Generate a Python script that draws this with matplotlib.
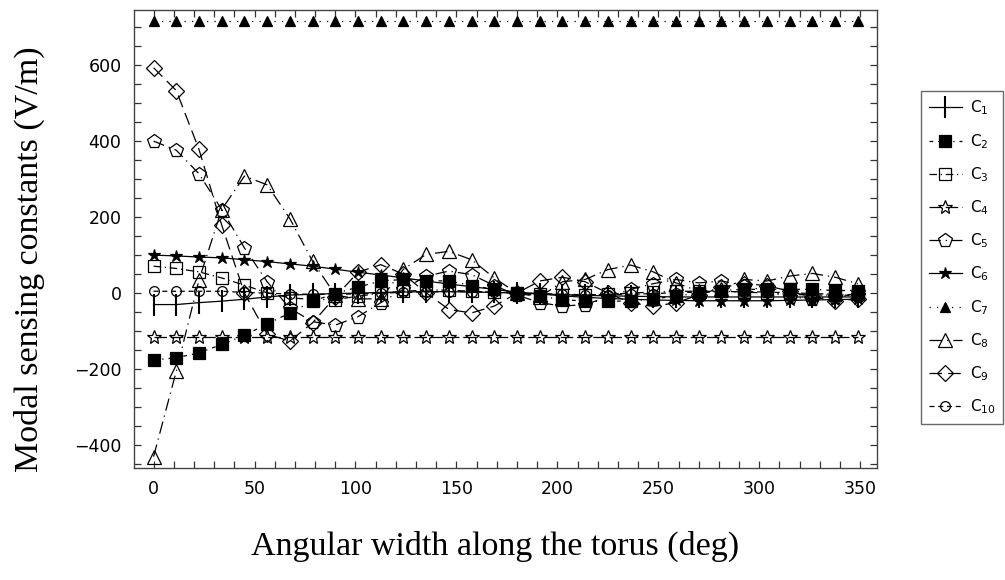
import matplotlib
matplotlib.use("Agg")
import matplotlib.pyplot as plt
from matplotlib.ticker import MultipleLocator

# ---- data ----
angles = [0, 11.25, 22.5, 33.75, 45, 56.25, 67.5, 78.75, 90, 101.25, 112.5, 123.75,
          135, 146.25, 157.5, 168.75, 180, 191.25, 202.5, 213.75, 225, 236.25,
          247.5, 258.75, 270, 281.25, 292.5, 303.75, 315, 326.25, 337.5, 348.75]

c1 = [-30, -30, -25, -21, -16, -10, -5, -3, -1, 0, 2, 3, 4, 4, 3, 2,
      0, -2, -4, -6, -7, -8, -9, -10, -10, -10, -10, -10, -10, -10, -10, -10]
c2 = [-176, -170, -157, -135, -111, -81, -52, -21, -1, 16, 32, 36, 33, 32, 20, 10,
      1, -8, -17, -21, -21, -21, -15, -8, 1, 7, 10, 10, 10, 10, 7, 7]
c3 = [71, 65, 56, 40, 21, 1, -12, -17, -17, -8, 0, 5, 8, 8, 5, 2,
      0, -3, -5, -5, -3, 0, 3, 5, 5, 5, 3, 0, -3, -5, -5, -3]
c4 = [-115, -115, -115, -115, -115, -115, -115, -115, -115, -115, -115, -115,
      -115, -115, -115, -115, -115, -115, -115, -115, -115, -115, -115, -115,
      -115, -115, -115, -115, -115, -115, -115, -115]
c5 = [400, 376, 314, 220, 119, 30, -40, -75, -84, -62, -25, 10, 45, 58, 49, 20,
      -5, -25, -34, -30, -10, 10, 25, 36, 27, 32, 20, 5, -10, -15, -10, -5]
c6 = [100, 98, 95, 93, 88, 83, 77, 71, 63, 55, 48, 40, 32, 24, 17, 10,
      3, -2, -7, -11, -14, -16, -18, -19, -20, -20, -20, -20, -19, -18, -17, -16]
c7 = [716, 716, 716, 716, 716, 716, 716, 716, 716, 716, 716, 716,
      716, 716, 716, 716, 716, 716, 716, 716, 716, 716, 716, 716,
      716, 716, 716, 716, 716, 716, 716, 716]
c8 = [-430, -205, 35, 220, 308, 285, 196, 84, -5, -15, -15, 63, 102, 110, 88, 40,
      0, -10, 30, 36, 62, 74, 56, 27, 5, 10, 36, 32, 45, 52, 42, 25]
c9 = [593, 533, 378, 179, 0, -108, -126, -78, -10, 55, 75, 50, 1, -43, -52, -34,
      0, 32, 42, 30, 0, -25, -35, -25, -5, 15, 25, 20, 5, -10, -20, -15]
c10 = [5, 5, 5, 5, 2, 0, -2, -3, -3, -2, 0, 2, 3, 4, 4, 3,
       1, -1, -3, -4, -4, -3, -1, 1, 3, 4, 4, 3, 1, -1, -3, -8]

labels = [r"C$_1$", r"C$_2$", r"C$_3$", r"C$_4$", r"C$_5$",
          r"C$_6$", r"C$_7$", r"C$_8$", r"C$_9$", r"C$_{10}$"]

# ---- styles ----
styles = [
    dict(marker="|", ms=16, mew=1.5, ls="-", mfc="none"),
    dict(marker="s", ms=9, ls=(0, (3, 4, 1, 4)), mfc="black"),
    dict(marker="s", ms=8.5, ls=(0, (6, 3, 1, 3)), mfc="none"),
    dict(marker="*", ms=10, ls=(0, (10, 3)), mfc="none"),
    dict(marker="p", ms=10, ls=(0, (9, 4, 1, 4)), mfc="none"),
    dict(marker="*", ms=9, ls="-", mfc="black"),
    dict(marker="^", ms=7, ls=(0, (1, 5)), mfc="black"),
    dict(marker="^", ms=10, ls=(0, (10, 4, 1, 4)), mfc="none"),
    dict(marker="D", ms=8.5, ls=(0, (10, 5)), mfc="none"),
    dict(marker="o", ms=7, ls=(0, (4, 3)), mfc="none"),
]

plt.rcParams["font.family"] = ["DejaVu Sans"]
plt.rcParams["mathtext.default"] = "regular"

fig = plt.figure(figsize=(10.05, 5.8), dpi=100)
ax = fig.add_axes([134 / 1005, 1 - 468 / 580, (877 - 134) / 1005, (468 - 10) / 580])

series = [c1, c2, c3, c4, c5, c6, c7, c8, c9, c10]
handles = []
for vals, st, lab in zip(series, styles, labels):
    h, = ax.plot(angles, vals, color="black", lw=0.9, marker=st["marker"],
                 markersize=st["ms"], markerfacecolor=st["mfc"],
                 markeredgecolor="black", markeredgewidth=st.get("mew", 0.9),
                 linestyle=st["ls"], label=lab)
    handles.append(h)

ax.set_xlim(-9.7, 358.3)
ax.set_ylim(-460, 745)
ax.xaxis.set_major_locator(MultipleLocator(50))
ax.xaxis.set_minor_locator(MultipleLocator(10))
ax.yaxis.set_major_locator(MultipleLocator(200))
ax.yaxis.set_minor_locator(MultipleLocator(50))
ax.tick_params(which="both", direction="in", top=True, right=True,
               labelsize=12.5, width=0.9, color="#333333")
ax.tick_params(which="major", length=5, pad=9)
ax.tick_params(which="minor", length=5)
for sp in ax.spines.values():
    sp.set_linewidth(1.0)
    sp.set_color("#444444")

fig.text(495 / 1005, 1 - 546 / 580, "Angular width along the torus (deg)",
         family="Liberation Serif", fontsize=24.5, ha="center", va="center")
fig.text(29 / 1005, 1 - 259 / 580, "Modal sensing constants (V/m)",
         family="Liberation Serif", fontsize=24.5, ha="center", va="center",
         rotation=90)

leg = fig.legend(handles=handles, loc="upper left",
                 bbox_to_anchor=(921 / 1005, 1 - 91 / 580),
                 fontsize=11, frameon=True, fancybox=False, borderaxespad=0,
                 handlelength=2.2, labelspacing=0.95, handletextpad=0.5,
                 borderpad=0.5)
leg.get_frame().set_edgecolor("#444444")
leg.get_frame().set_linewidth(1.0)

fig.savefig("out.png", dpi=100)
